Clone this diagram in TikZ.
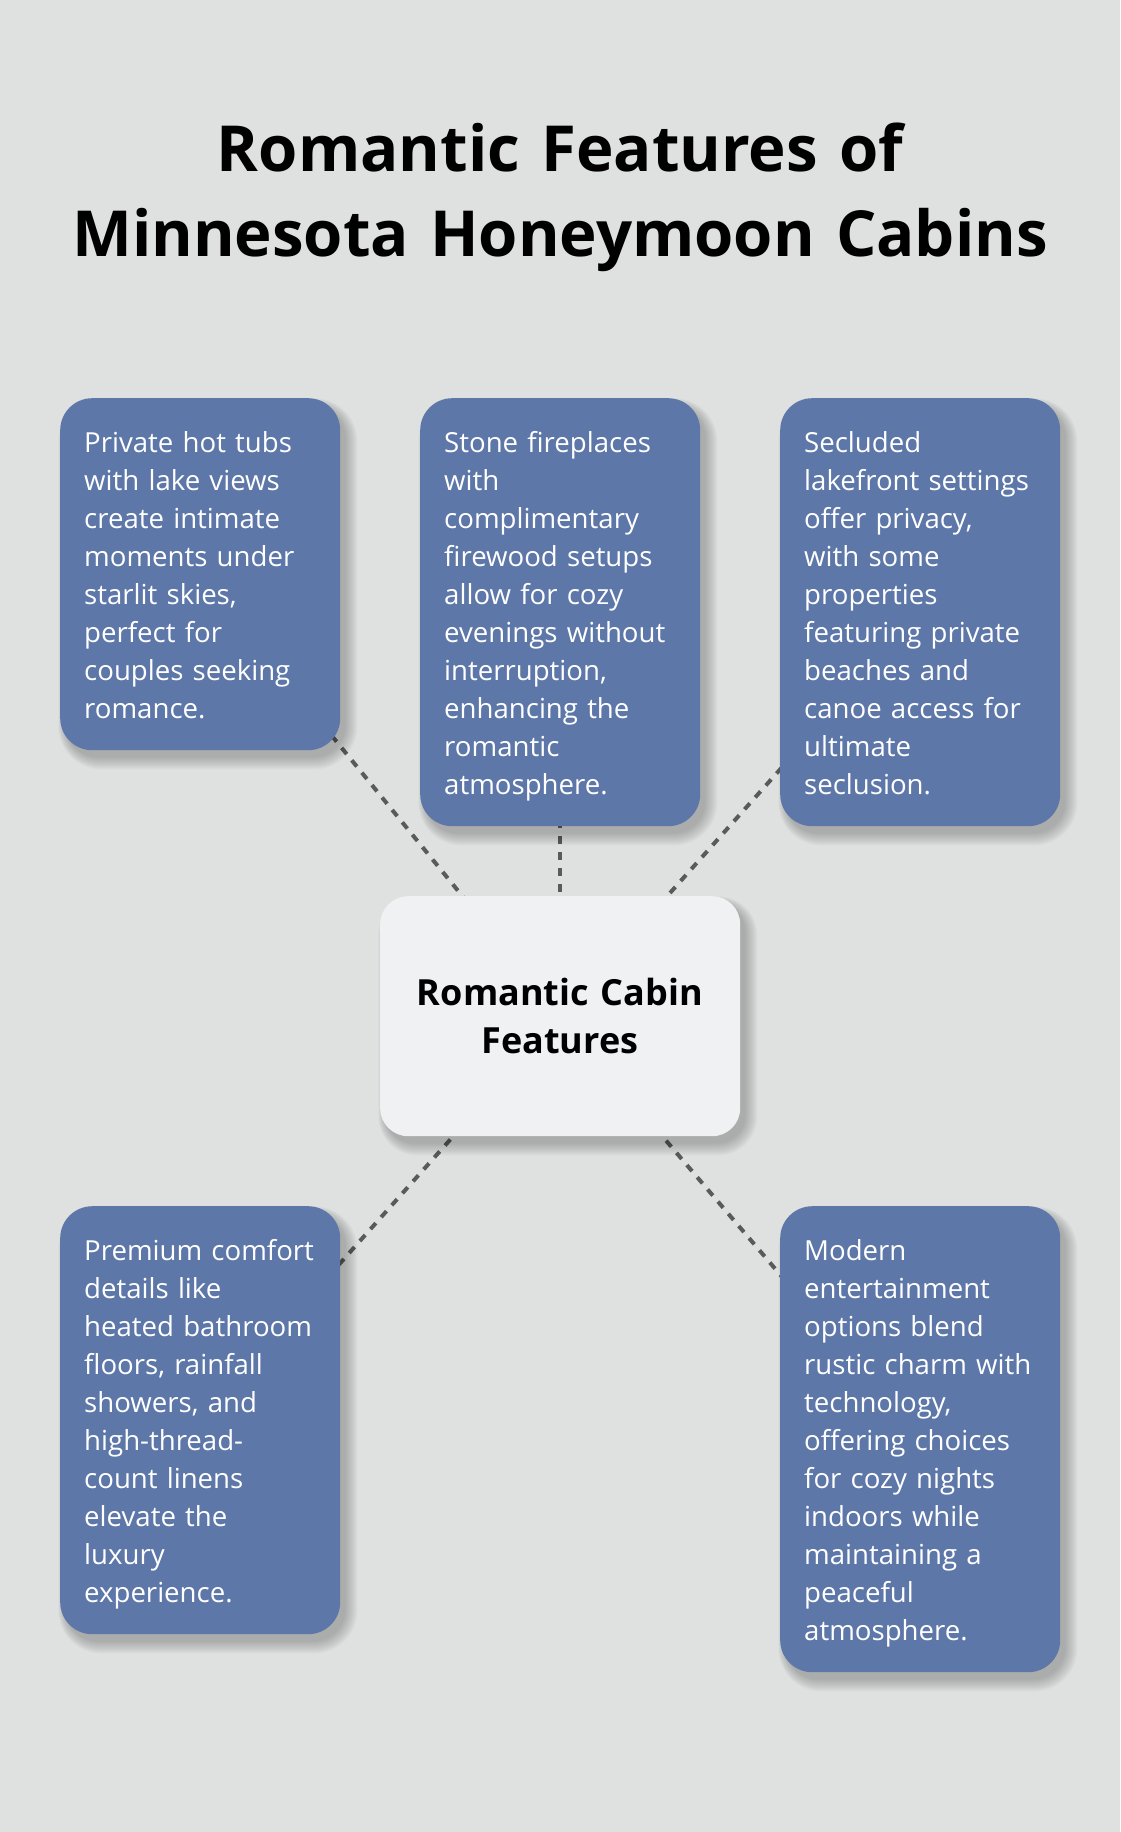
\documentclass[tikz,border=0pt]{standalone}
\usepackage{fontspec}
\setmainfont{Open Sans}
\usetikzlibrary{calc}
\definecolor{bgcol}{HTML}{DFE1E0}
\definecolor{boxblue}{HTML}{5D77A9}
\definecolor{centerfill}{HTML}{F0F1F3}
\definecolor{dashcol}{HTML}{5A5A5A}
\pgfdeclarelayer{bglayer}
\pgfdeclarelayer{linelayer}
\pgfdeclarelayer{shadowlayer}
\pgfsetlayers{bglayer,linelayer,shadowlayer,main}
\tikzset{
  featbox/.style={draw=none, fill=boxblue, rounded corners=32pt, minimum width=280pt,
    anchor=north west, inner sep=0pt},
  centerbox/.style={draw=none, fill=centerfill, rounded corners=28pt, minimum width=360pt,
    minimum height=240pt, anchor=north west, inner sep=0pt},
  feattext/.style={anchor=base west, text width=250pt, align=left, inner sep=0pt,
    text=white, font=\fontsize{27.6}{38}\selectfont},
  link/.style={draw=dashcol, line width=4pt, dash pattern=on 8pt off 8pt},
}
\begin{document}
\begin{tikzpicture}[x=1pt, y=-1pt]
\begin{pgfonlayer}{bglayer}
\fill[bgcol] (0,0) rectangle (1120,1832);
\end{pgfonlayer}
\useasboundingbox (0,0) rectangle (1120,1832);

\node[anchor=base, text width=1100pt, align=center, inner sep=0pt,
  font=\fontsize{63.5}{85}\selectfont\bfseries] (title) at (560,171)
  {Romantic Features of\\Minnesota Honeymoon Cabins};

\node[centerbox] (center) at (380,896) {};
\node[anchor=base, text width=340pt, align=center, inner sep=0pt,
  font=\fontsize{36}{48}\selectfont\bfseries, text=black] (centertext) at (560,1005)
  {Romantic Cabin\\Features};

\node[featbox, minimum height=352pt] (b1) at (60,398) {};
\node[featbox, minimum height=428pt] (b2) at (420,398) {};
\node[featbox, minimum height=428pt] (b3) at (780,398) {};
\node[featbox, minimum height=428pt] (b4) at (60,1206) {};
\node[featbox, minimum height=466pt] (b5) at (780,1206) {};

\node[feattext] (t1) at (84,452) {Private hot tubs\\with lake views\\create intimate\\moments under\\starlit skies,\\perfect for\\couples seeking\\romance.};
\node[feattext] (t2) at (444,452) {Stone fireplaces\\with\\complimentary\\firewood setups\\allow for cozy\\evenings without\\interruption,\\enhancing the\\romantic\\atmosphere.};
\node[feattext] (t3) at (804,452) {Secluded\\lakefront settings\\offer privacy,\\with some\\properties\\featuring private\\beaches and\\canoe access for\\ultimate\\seclusion.};
\node[feattext] (t4) at (84,1260) {Premium comfort\\details like\\heated bathroom\\floors, rainfall\\showers, and\\high-thread-\\count linens\\elevate the\\luxury\\experience.};
\node[feattext] (t5) at (804,1260) {Modern\\entertainment\\options blend\\rustic charm with\\technology,\\offering choices\\for cozy nights\\indoors while\\maintaining a\\peaceful\\atmosphere.};

\begin{pgfonlayer}{shadowlayer}
\foreach \n/\r in {b1/32,b2/32,b3/32,b4/32,b5/32,center/28}{
  \foreach \i in {0,...,11}{
    \pgfmathsetmacro{\rr}{\r+\i}
    \pgfmathsetmacro{\a}{6-0.7*\i}
    \pgfmathsetmacro{\b}{8-0.7*\i}
    \pgfmathsetmacro{\c}{5+1.1*\i}
    \pgfmathsetmacro{\d}{7+1.1*\i}
    \fill[black, fill opacity=0.02, rounded corners=\rr pt]
      ($(\n.north west)+(\a,\b)$) rectangle ($(\n.south east)+(\c,\d)$);
  }
}
\end{pgfonlayer}

\begin{pgfonlayer}{linelayer}
\draw[link] (b1.center) -- (center.center);
\draw[link] (b2.center) -- (center.center);
\draw[link] (b3.center) -- (center.center);
\draw[link] (b4.center) -- (center.center);
\draw[link] (b5.center) -- (center.center);
\end{pgfonlayer}
\end{tikzpicture}
\end{document}
